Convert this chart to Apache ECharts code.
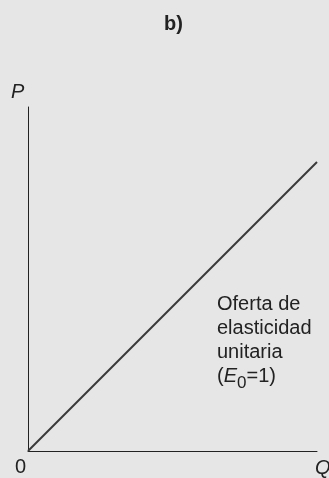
<!DOCTYPE html>
<html style="height: 100%">
<head>
<meta charset="utf-8">
</head>
<body style="height: 100%; margin: 0; background: #e6e6e6">
<div id="container" style="width: 329px; height: 478px"></div>
<script type="text/javascript" src="https://cdn.jsdelivr.net/npm/echarts@6/dist/echarts.min.js"></script>
<script type="text/javascript">
// quantity and price of the supply line (unit elasticity: straight from origin)
var qValues = [0, 10];
var pValues = [0, 8.4];
var noteLines = ['Oferta de', 'elasticidad', 'unitaria'];

var font = 'Liberation Sans, Arial, sans-serif';
var dom = document.getElementById('container');
var myChart = echarts.init(dom);

var lineData = [];
for (var i = 0; i < qValues.length; i++) {
    lineData.push([qValues[i], pValues[i]]);
}

var option = {
    backgroundColor: '#e6e6e6',
    animation: false,
    title: {
        text: 'b)',
        left: 159,
        top: 9,
        textStyle: { fontFamily: font, fontSize: 20, fontWeight: 'bold', color: '#222' }
    },
    grid: { left: 28, right: 12, top: 107, bottom: 27 },
    xAxis: {
        type: 'value', min: 0, max: 10,
        axisLine: { show: true, lineStyle: { color: '#222', width: 1 } },
        axisTick: { show: false }, axisLabel: { show: false }, splitLine: { show: false }
    },
    yAxis: {
        type: 'value', min: 0, max: 10,
        axisLine: { show: true, lineStyle: { color: '#222', width: 1 } },
        axisTick: { show: false }, axisLabel: { show: false }, splitLine: { show: false }
    },
    graphic: [
        { type: 'text', left: 11, top: 82, style: { text: 'P', fontFamily: font, fontSize: 20, fontStyle: 'italic', fill: '#222' } },
        { type: 'text', left: 15, top: 457, style: { text: '0', fontFamily: font, fontSize: 20, fill: '#222' } },
        { type: 'text', left: 315, top: 458, style: { text: 'Q', fontFamily: font, fontSize: 20, fontStyle: 'italic', fill: '#222' } },
        {
            type: 'text', left: 217, top: 292,
            style: {
                text: noteLines.join('\n') + '\n({i|E}{sub|0}=1)',
                fontFamily: font, fontSize: 20, lineHeight: 24, fill: '#222',
                rich: {
                    i: { fontFamily: font, fontSize: 20, fontStyle: 'italic', lineHeight: 24 },
                    sub: { fontFamily: font, fontSize: 17, lineHeight: 24, padding: [15, 0, 0, 0] }
                }
            }
        }
    ],
    series: [{
        type: 'line',
        data: lineData,
        showSymbol: false,
        symbol: 'none',
        lineStyle: { color: '#3a3a3a', width: 2 }
    }]
};

myChart.setOption(option);
</script>
</body>
</html>
